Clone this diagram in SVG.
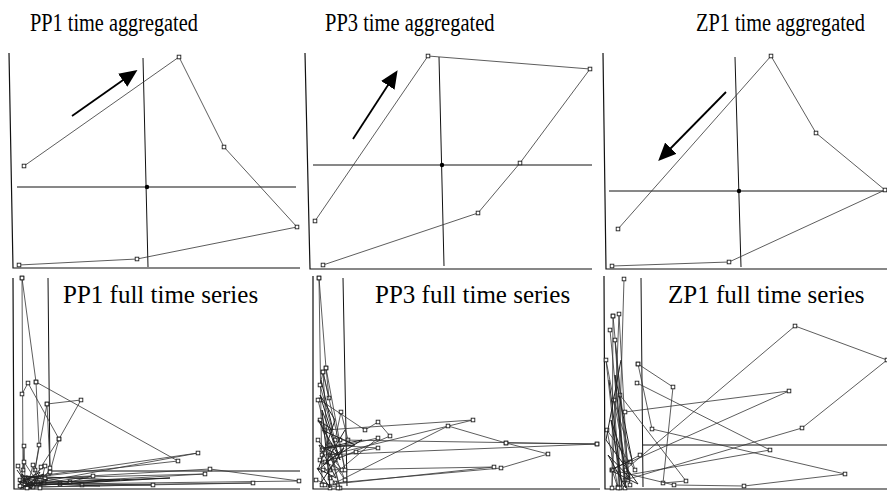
<svg xmlns="http://www.w3.org/2000/svg" width="887" height="492" viewBox="0 0 887 492">
<defs>
<marker id="sq" markerUnits="userSpaceOnUse" markerWidth="6" markerHeight="6" refX="3" refY="3"><rect x="1.2" y="1.2" width="3.6" height="3.6" fill="#fff" stroke="#222" stroke-width="0.9"/></marker>
<marker id="ah" markerUnits="userSpaceOnUse" markerWidth="20" markerHeight="16" refX="4" refY="8" orient="auto"><path d="M0,0 L18,8 L0,16 Z" fill="#000"/></marker>
</defs>
<style>
.title{font-family:"Liberation Serif","Times New Roman",serif;fill:#000}
.ax{stroke:#111;stroke-width:1.2;fill:none}
.ch{stroke:#111;stroke-width:1;fill:none}
.d{stroke:#333;stroke-width:0.8;fill:none;marker-start:url(#sq);marker-mid:url(#sq);marker-end:url(#sq)}
.c{stroke:#222;stroke-width:1;fill:none}
.arr{stroke:#000;stroke-width:1.8;fill:none;marker-end:url(#ah)}
</style>
<rect width="887" height="492" fill="#fff"/>

<g id="panel-pp1-agg">
<text class="title" transform="translate(30,31) scale(1,1.2)" font-size="20.3">PP1 time aggregated</text>
<path class="ax" d="M9,53 L13,268 L300,268"/>
<path class="ch" d="M17,187 L296,187 M143,58 L148,267"/>
<circle cx="147" cy="187" r="2.2" fill="#000"/>
<polyline class="d" points="24,166 179,57 224,147 297,227 137,259 19,265"/>
<line class="arr" x1="72" y1="116" x2="126" y2="78"/>
</g>

<g id="panel-pp3-agg">
<text class="title" transform="translate(325,31) scale(1,1.2)" font-size="20.5">PP3 time aggregated</text>
<path class="ax" d="M305,53 L310,269 L592,269"/>
<path class="ch" d="M313,165 L592,165 M439,57 L444,266"/>
<circle cx="442" cy="165" r="2.2" fill="#000"/>
<polyline class="d" points="315,221 428,56 590,69 520,163 478,213 323,265"/>
<line class="arr" x1="353" y1="139" x2="390" y2="82"/>
</g>

<g id="panel-zp1-agg">
<text class="title" transform="translate(696,31) scale(1,1.2)" font-size="20.3">ZP1 time aggregated</text>
<path class="ax" d="M603,53 L606,269 L887,269"/>
<path class="ch" d="M609,191 L887,191 M735,57 L741,267"/>
<circle cx="739" cy="191" r="2.2" fill="#000"/>
<polyline class="d" points="618,229 771,56 816,133 885,190 729,262 612,266"/>
<line class="arr" x1="726" y1="92" x2="668" y2="151"/>
</g>

<g id="panel-pp1-full">
<path class="ax" d="M13,278 L14,489 L300,489"/>
<path class="ch" d="M48,278 L50,476 M50,471 L300,471"/>
<polyline class="d" points="22,278 23,470 24,446 25,480 22,487"/>
<polyline class="d" points="22,278 36,382 178,461 26,478 198,453 30,484"/>
<polyline class="d" points="22,394 28,383 59,439 41,467 30,486"/>
<polyline class="d" points="47,404 81,400 59,439 50,472 36,480"/>
<polyline class="d" points="36,382 39,445 35,470 47,404 50,468 40,486"/>
<polyline class="d" points="20,480 210,469 299,481 60,484"/>
<polyline class="d" points="25,484 205,474 45,478 82,485 253,483 33,487"/>
<polyline class="d" points="28,487 153,485 44,483 93,476 70,482 27,480"/>
<polyline class="d" points="18,466 27,488 33,465 40,488 45,466 20,486 24,462 38,483"/>
<polyline class="c" points="17,470 30,488 22,474 36,486 19,482 44,474 21,488 48,480 26,476 31,489 40,472 18,485"/>
<polyline class="c" points="20,476 120,480 24,486 170,478 28,483 100,486"/>
<text class="title" x="63" y="303" font-size="25">PP1 full time series</text>
</g>

<g id="panel-pp3-full">
<path class="ax" d="M313,276 L313,489 L600,489"/>
<path class="ch" d="M343,278 L347,486"/>
<polyline class="d" points="319,278 322,485"/>
<polyline class="d" points="319,278 326,368 329,398 323,372 320,385 335,440 341,412 348,440 330,470"/>
<polyline class="d" points="320,400 365,430 378,422 390,436 335,460"/>
<polyline class="d" points="325,430 473,420 330,455"/>
<polyline class="d" points="322,450 378,438 330,478"/>
<polyline class="d" points="330,445 378,448 356,452 325,462"/>
<polyline class="d" points="340,440 597,444 506,443 548,454 501,468 335,483 448,426 506,443"/>
<polyline class="d" points="323,470 494,467 325,485"/>
<polyline class="d" points="322,455 597,444"/>
<polyline class="d" points="318,400 340,488 320,420 345,480 318,440 342,470 320,460 338,488 316,480"/>
<polyline class="d" points="326,368 345,470 323,372 330,488"/>
<polyline class="c" points="321,380 333,430 318,420 338,455 319,445 336,478 317,468 330,488 322,410 340,460 320,395 335,420 318,470 344,448 320,484"/>
<polyline class="c" points="322,430 355,445 324,448 362,440 326,462 345,430"/>
<text class="title" x="375" y="303" font-size="25">PP3 full time series</text>
</g>

<g id="panel-zp1-full">
<path class="ax" d="M604,276 L605,489 L887,489"/>
<path class="ch" d="M641,278 L643,487 M643,445 L887,445"/>
<polyline class="d" points="624,279 618,487"/>
<polyline class="d" points="613,316 612,488 619,314 628,480 613,316"/>
<polyline class="d" points="638,364 673,387 663,483 686,481 620,395"/>
<polyline class="d" points="638,364 652,429 845,474 744,486 674,485 612,470"/>
<polyline class="d" points="637,383 770,450 628,475"/>
<polyline class="d" points="625,470 795,326 887,360 802,428 625,480"/>
<polyline class="d" points="625,412 789,391 630,462"/>
<polyline class="d" points="610,330 625,488 615,340 630,485 606,360 620,488 614,400 635,470 607,430 618,488 612,470 640,455"/>
<polyline class="c" points="609,380 622,486 611,420 630,478 608,455 626,488 615,375 632,460 610,470 638,484 606,440 621,360"/>
<text class="title" x="668" y="303" font-size="25">ZP1 full time series</text>
</g>
</svg>
